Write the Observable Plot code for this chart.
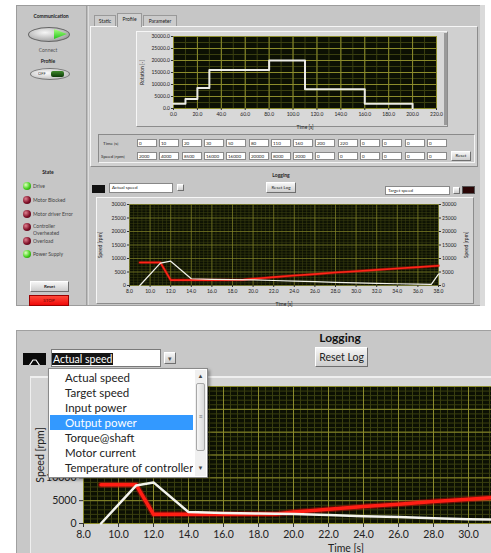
<!DOCTYPE html>
<html><head><meta charset="utf-8">
<script src="https://cdn.jsdelivr.net/npm/d3@7"></script>
<script src="https://cdn.jsdelivr.net/npm/@observablehq/plot@0.6"></script>
<style>
html,body{margin:0;padding:0;background:#fff;}
#root{position:relative;width:491px;height:553px;overflow:hidden;font-family:Lato,"Noto Sans",sans-serif;color:#222;}
.a{position:absolute;box-sizing:border-box;white-space:nowrap;overflow:hidden;}
.p{position:absolute;max-width:none !important;}
</style></head><body><div id="root"></div>
<script>
// ---------- data ----------
const profileTime  = [0, 10, 20, 30, 50, 80, 110, 160, 200, 220, 0, 0, 0, 0];
const profileSpeed = [2000, 4000, 8500, 16000, 16000, 20000, 8000, 2000, 0, 0, 0, 0, 0, 0];
const profileXTicks = [0, 20, 40, 60, 80, 100, 120, 140, 160, 180, 200, 220];
const rotationTicks = [0, 5000, 10000, 15000, 20000, 25000, 30000];
const logTimeTicks = [8, 10, 12, 14, 16, 18, 20, 22, 24, 26, 28, 30, 32, 34, 36, 38];
const speedTicks = [0, 5000, 10000, 15000, 20000, 25000, 30000];
const actualTime  = [9, 11, 12, 14, 16, 18, 20, 22, 24, 26, 28, 30, 32, 34, 36, 37.3, 38];
const actualSpeed = [0, 8300, 9000, 2500, 2300, 2200, 2100, 1850, 1600, 1400, 1150, 950, 800, 650, 500, 400, 4200];
const targetTime  = [9, 11, 12, 16, 19, 20, 22, 24, 26, 28, 30, 32, 34, 36, 38];
const targetSpeed = [8500, 8500, 2000, 2000, 2100, 2500, 3100, 3700, 4200, 4800, 5300, 5800, 6300, 6800, 7300];
const channels = ["Actual speed", "Target speed", "Input power", "Output power", "Torque@shaft", "Motor current", "Temperature of controller"];
const stateLabels = ["Drive", "Motor Blocked", "Motor driver Error", "Controller<br>Overheated", "Overload", "Power Supply"];
const stateOn = [true, false, false, false, false, true];

const profile = profileTime.slice(0, 9).map((t, i) => ({t, v: profileSpeed[i]}));
const actual = actualTime.map((t, i) => ({t, v: actualSpeed[i]}));
const target = targetTime.map((t, i) => ({t, v: targetSpeed[i]}));

// ---------- helpers ----------
const FONT = 'Lato,"Noto Sans",sans-serif';
const root = document.getElementById("root");
function el(x, y, w, h, css, html) {
  const d = document.createElement("div");
  d.className = "a";
  d.style.cssText = `left:${x}px;top:${y}px;` + (w != null ? `width:${w}px;` : "") + `height:${h}px;` + (css || "");
  if (html != null) d.innerHTML = html;
  root.appendChild(d);
  return d;
}
const bevel = "background:linear-gradient(#f6f6f6,#cdcdcd);border:1px solid;border-color:#fff #6f6f6f #6f6f6f #fff;";
const sunk = "border:1px solid;border-color:#8a8a8a #f4f4f4 #f4f4f4 #8a8a8a;";
const raised = "border:1px solid;border-color:#f6f6f6 #8c8c8c #8c8c8c #f6f6f6;";

function chart(o) {
  const xMinor = d3.range(o.xDomain[0], o.xDomain[1] + 1e-9, o.xMinorStep);
  const yMinor = d3.range(0, 30000 + 1e-9, o.yMinorStep);
  const ax = {tickSize: o.tickSize, tickPadding: o.tickPadding, stroke: "#333", labelArrow: "none"};
  const marks = [
    Plot.frame({fill: "#0c1003"}),
    Plot.gridX(xMinor, {stroke: "#3a3f10", strokeOpacity: 1, strokeWidth: o.gw || 1}),
    Plot.gridY(yMinor, {stroke: "#3a3f10", strokeOpacity: 1, strokeWidth: o.gw || 1}),
    Plot.gridX(o.xTicks, {stroke: "#8c8c2c", strokeOpacity: 1, strokeWidth: o.gw || 1}),
    Plot.gridY(o.yTicks, {stroke: "#8c8c2c", strokeOpacity: 1, strokeWidth: o.gw || 1}),
    Plot.axisX(o.xAxisTicks || o.xTicks, {...ax, tickFormat: d => d.toFixed(1), label: "Time [s]", labelAnchor: "center", labelOffset: o.xLabelOffset}),
    Plot.axisY(o.yAxisTicks || o.yTicks, {...ax, anchor: "left", tickFormat: o.yFmt, label: o.yLabel, labelAnchor: "center", labelOffset: o.yLabelOffset})
  ];
  if (o.right) marks.push(Plot.axisY(o.yTicks, {...ax, anchor: "right", tickFormat: o.yFmt, label: o.yLabel, labelAnchor: "center", labelOffset: o.rLabelOffset}));
  const svg = Plot.plot({
    width: o.width, height: o.height,
    marginLeft: o.ml, marginRight: o.mr, marginTop: o.mt, marginBottom: o.mb,
    style: {background: "transparent", fontSize: o.fs + "px", fontFamily: FONT, color: "#222", overflow: "visible", maxWidth: "none"},
    x: {domain: o.xDomain},
    y: {domain: [0, 30000]},
    marks: marks.concat(o.marks)
  });
  svg.classList.add("p");
  svg.style.left = o.left + "px";
  svg.style.top = o.top + "px";
  svg.style.width = o.width + "px";
  svg.style.height = o.height + "px";
  root.appendChild(svg);
}

// ---------- top screenshot ----------
el(16, 5, 467, 301, "background:#c6c6c6;border:1px solid #9c9c9c;");
el(480, 5, 5, 301, "background:#dadada;");
el(86, 6, 3, 299, "background:linear-gradient(90deg,#8e8e8e,#ececec);");

el(18, 13, 66, 7, "font-weight:bold;font-size:5px;text-align:center;", "Communication");
el(28, 27, 42, 15, "border-radius:50%;background:radial-gradient(ellipse at 40% 35%,#f6f6f6,#b0b0b0 65%,#7a7a7a);border:1px solid #666;");
el(54, 29, 13, 10, "background:linear-gradient(#a8ff80,#24c41a);clip-path:polygon(0 0,100% 50%,0 100%);");
el(18, 47, 60, 7, "font-size:5px;text-align:center;color:#555;", "Connect");
el(18, 58, 60, 7, "font-weight:bold;font-size:5px;text-align:center;", "Profile");
el(30, 68, 40, 12, "border-radius:50%;background:radial-gradient(ellipse at 40% 40%,#fbfbfb,#b0b0b0);border:1px solid #777;");
el(38, 71, 12, 6, "font-size:4px;color:#333;line-height:6px;", "OFF");
el(51, 71, 13, 6, "background:linear-gradient(#3f8a2c,#0d3a08);border-radius:2px;");

el(18, 169, 60, 7, "font-weight:bold;font-size:5px;text-align:center;", "State");
const ledY = [186, 200, 214, 227, 241, 254];
stateLabels.forEach((s, i) => {
  const on = stateOn[i];
  el(23, ledY[i] - 4, 8, 8, "border-radius:50%;background:" + (on
    ? "radial-gradient(circle at 35% 35%,#e0ffc0,#46d21e 55%,#1c6a0a)"
    : "radial-gradient(circle at 35% 35%,#e08090,#801028 55%,#3a0010)") + ";");
  const two = s.includes("<br>");
  el(33, ledY[i] - (two ? 4 : 3), 52, two ? 14 : 7, "font-size:5px;line-height:6.5px;color:#444;", s);
});
el(30, 281, 39, 11, bevel + "font-weight:bold;font-size:4.5px;text-align:center;line-height:9px;", "Reset");
el(29, 295, 40, 11, "background:linear-gradient(#ff4a3a,#f00a0a);border:1px solid #900;font-size:4.5px;color:#600;text-align:center;line-height:9px;", "STOP");

// tabs
el(94, 15, 22, 11, "background:#cbcbcb;border:1px solid #999;border-bottom:none;font-size:5px;text-align:center;line-height:10px;", "Static");
el(143, 15, 34, 11, "background:#cbcbcb;border:1px solid #999;border-bottom:none;font-size:5px;text-align:center;line-height:10px;", "Parameter");
el(90, 26, 388, 141, "background:#d0d0d0;" + raised);
el(117, 13, 25, 14, "background:#d0d0d0;border:1px solid #999;border-bottom:none;font-size:5px;text-align:center;line-height:11px;", "Profile");
el(136, 31, 312, 96, "background:#d8d8d8;" + raised);
el(444, 33, 3, 92, "background:#9a9a9a;");

// profile table
el(98, 134, 377, 29, "background:#c9c9c9;" + sunk);
el(103, 140, 32, 7, "font-size:4.5px;line-height:7px;", "Time [s]");
el(101, 153, 36, 7, "font-size:4.5px;line-height:7px;", "Speed [rpm]");
for (let i = 0; i < 14; i++) {
  const x = Math.round(137 + i * 22.3);
  el(x, 139, 20, 8, "background:#fff;border:1px solid #8a8a8a;font-size:4.5px;padding-left:1px;line-height:7px;", String(profileTime[i]));
  el(x, 152, 20, 8, "background:#fff;border:1px solid #8a8a8a;font-size:4.5px;padding-left:1px;line-height:7px;", String(profileSpeed[i]));
}
el(451, 151, 20, 10, bevel + "font-size:4.5px;text-align:center;line-height:8px;", "Reset");

// logging header (top)
el(256, 172, 50, 7, "font-weight:bold;font-size:5px;text-align:center;", "Logging");
el(266, 182, 30, 11, bevel + "font-size:4.5px;text-align:center;line-height:9px;", "Reset Log");
el(92, 185, 13, 8, "background:#111;", '<svg width="13" height="8"><path d="M1,6 L4,6 L6,2 L8,2 L10,6 L12,6" stroke="#fff" stroke-width="0.8" fill="none"/></svg>');
el(109, 183, 64, 10, "background:#fff;border:1px solid #888;font-size:4.5px;padding-left:2px;line-height:8px;", "Actual speed");
el(177, 184, 7, 7, bevel);
el(385, 186, 65, 9, "background:#fff;border:1px solid #888;font-size:4.5px;padding-left:2px;line-height:7px;", "Target speed");
el(453, 187, 7, 7, bevel);
el(462, 186, 13, 8, "background:#2a0606;border:1px solid #555;");
el(96, 197, 378, 107, "background:#d4d4d4;" + raised);

// ---------- charts (top) ----------
chart({
  left: 133, top: 30, width: 310, height: 100, ml: 40, mr: 7, mt: 6, mb: 22, fs: 5,
  xDomain: [0, 220], xTicks: profileXTicks, yTicks: rotationTicks, xMinorStep: 10, yMinorStep: 2500,
  yFmt: d => d.toFixed(1), yLabel: "Rotation [-]", tickSize: 2, tickPadding: 1.5,
  xLabelOffset: 20, yLabelOffset: 33,
  marks: [Plot.line(profile, {x: "t", y: "v", curve: "step-after", stroke: "#ecece6", strokeWidth: 2})]
});
chart({
  left: 95, top: 198, width: 380, height: 105, ml: 34, mr: 37, mt: 6, mb: 18, fs: 5,
  xDomain: [8, 38], xTicks: logTimeTicks, yTicks: speedTicks, xMinorStep: 0.4, yMinorStep: 1000, gw: 0.6,
  yFmt: d => String(d), yLabel: "Speed [rpm]", tickSize: 2, tickPadding: 1.5, right: true,
  xLabelOffset: 20, yLabelOffset: 31, rLabelOffset: 29,
  marks: [
    Plot.line(target, {x: "t", y: "v", stroke: "#c80a0a", strokeWidth: 3, strokeOpacity: 0.5}),
    Plot.line(target, {x: "t", y: "v", stroke: "#ff2418", strokeWidth: 1.6}),
    Plot.line(actual, {x: "t", y: "v", stroke: "#f2f2ea", strokeWidth: 1.2})
  ]
});

// ---------- bottom zoomed view ----------
el(16, 330, 475, 223, "background:#c8c8c8;border-top:1px solid #a0a0a0;border-left:1px solid #a0a0a0;");
el(30, 376, 461, 177, "background:#d4d4d4;border-top:2px solid #efefef;border-left:1px solid #efefef;");
el(300, 330, 80, 16, "font-weight:bold;font-size:12px;text-align:center;color:#111;line-height:16px;", "Logging");
el(315, 347, 53, 20, bevel + "font-size:10.5px;text-align:center;line-height:18px;", "Reset Log");
el(23, 353, 23, 12, "background:#0a0a0a;", '<svg width="23" height="12"><path d="M1,9 L6,9 L10,3 L13,3 L17,9 L22,9" stroke="#fff" stroke-width="1.2" fill="none"/></svg>');
el(51, 349, 110, 18, "background:#fff;border:1px solid #7a7a7a;");
el(52, 353, null, 12, "background:#151515;color:#fff;font-size:10.5px;line-height:12px;padding:0 1px;", "Actual speed");
el(164, 352, 12, 12, bevel + "font-size:7px;text-align:center;line-height:10px;color:#555;", "▾");

chart({
  left: 16, top: 378, width: 632, height: 175, ml: 67, mr: 40, mt: 8, mb: 30, fs: 10.5,
  xDomain: [8, 38], xTicks: logTimeTicks, yTicks: speedTicks, xMinorStep: 0.4, yMinorStep: 1000,
  xAxisTicks: logTimeTicks.filter(t => t <= 30), yAxisTicks: speedTicks.filter(v => v <= 10000),
  yFmt: d => String(d), yLabel: "Speed [rpm]", tickSize: 4, tickPadding: 3,
  xLabelOffset: 28, yLabelOffset: 47,
  marks: [
    Plot.line(target, {x: "t", y: "v", stroke: "#c80a0a", strokeWidth: 6, strokeOpacity: 0.45}),
    Plot.line(target, {x: "t", y: "v", stroke: "#ff1e14", strokeWidth: 3.5}),
    Plot.line(actual, {x: "t", y: "v", stroke: "#f4f4ee", strokeWidth: 2.5})
  ]
});

// dropdown overlay
el(48, 368, 160, 110, "background:#fff;border:1px solid #8a8a8a;box-shadow:2px 2px 3px rgba(0,0,0,0.35);");
channels.forEach((c, i) => {
  el(50, 370 + i * 15, 143, 15, "font-size:11.5px;line-height:15px;padding-left:15px;" + (i === 3 ? "background:#3399ff;color:#fff;" : "color:#222;"), c);
});
el(195, 370, 11, 106, "background:#f0f0f0;");
el(196, 383, 9, 68, "background:linear-gradient(90deg,#f6f6f6,#dadada);border:1px solid #a8a8a8;border-radius:2px;");
el(196, 372, 9, 8, "font-size:6px;text-align:center;line-height:8px;color:#444;", "▲");
el(196, 464, 9, 8, "font-size:6px;text-align:center;line-height:8px;color:#444;", "▼");
el(196, 412, 9, 8, "font-size:7px;text-align:center;line-height:8px;color:#777;", "≡");
</script></body></html>
